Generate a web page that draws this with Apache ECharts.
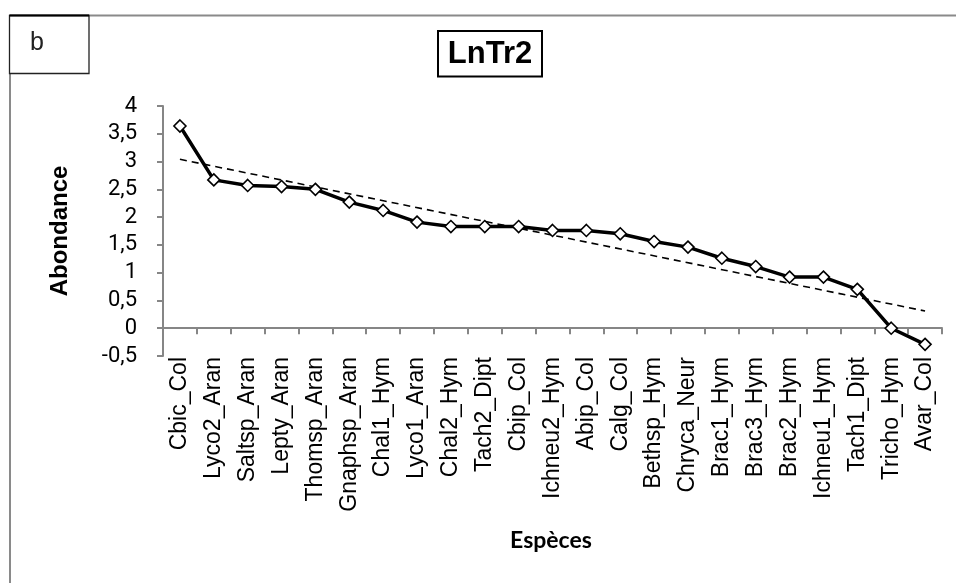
<!DOCTYPE html>
<html>
<head>
<meta charset="utf-8">
<title>LnTr2</title>
<script src="https://cdn.jsdelivr.net/npm/echarts@6/dist/echarts.min.js"></script>
<style>
  html, body { margin: 0; padding: 0; background: #fff; }
  #chart { width: 956px; height: 583px; }
</style>
</head>
<body>
<div id="chart"></div>
<script>
// Species, ranked by abundance (log scale)
const species = [
  'Cbic_Col', 'Lyco2_Aran', 'Saltsp_Aran', 'Lepty_Aran', 'Thomsp_Aran',
  'Gnaphsp_Aran', 'Chal1_Hym', 'Lyco1_Aran', 'Chal2_Hym', 'Tach2_Dipt',
  'Cbip_Col', 'Ichneu2_Hym', 'Abip_Col', 'Calg_Col', 'Bethsp_Hym',
  'Chryca_Neur', 'Brac1_Hym', 'Brac3_Hym', 'Brac2_Hym', 'Ichneu1_Hym',
  'Tach1_Dipt', 'Tricho_Hym', 'Avar_Col'
];

// ln(abundance) per species
const abundance = [
  3.64, 2.67, 2.57, 2.55, 2.50,
  2.27, 2.12, 1.91, 1.83, 1.83,
  1.83, 1.76, 1.76, 1.70, 1.56,
  1.46, 1.26, 1.11, 0.92, 0.92,
  0.70, 0.00, -0.29
];

// Linear trend line: values at first and last species
const trendEnds = [3.04, 0.31];

// Value-axis ticks
const yTicks = [-0.5, 0, 0.5, 1, 1.5, 2, 2.5, 3, 3.5, 4];

const chartTitle = 'LnTr2';
const panelTag = 'b';
const yName = 'Abondance';
const xName = 'Espèces';

const chart = echarts.init(document.getElementById('chart'), null, { renderer: 'canvas' });

const axisGray = '#868686';

const option = {
  backgroundColor: '#ffffff',
  animation: false,
  grid: {
    left: 163, right: 14, top: 106, bottom: 227,
    containLabel: false,
    outerBoundsMode: 'none'
  },
  graphic: [
    // outer frame: top and left edges
    { type: 'line', shape: { x1: 9.5, y1: 15.5, x2: 956, y2: 15.5 },
      style: { stroke: '#8a8a8a', lineWidth: 2 }, silent: true },
    { type: 'line', shape: { x1: 10, y1: 15.5, x2: 10, y2: 583 },
      style: { stroke: '#8a8a8a', lineWidth: 2 }, silent: true },
    // panel tag box
    { type: 'rect', shape: { x: 9.5, y: 15.5, width: 79.5, height: 58 },
      style: { fill: '#fff', stroke: '#222', lineWidth: 1.3 }, silent: true },
    { type: 'line', shape: { x1: 9.5, y1: 15.5, x2: 89, y2: 15.5 },
      style: { stroke: '#000', lineWidth: 2 }, silent: true },
    { type: 'text', x: 37, y: 43,
      style: { text: panelTag, font: '25px "Liberation Sans Narrow", "Liberation Sans", sans-serif',
        fill: '#222', align: 'center', verticalAlign: 'middle' }, silent: true },
    // chart title in a box
    { type: 'rect', shape: { x: 438, y: 31, width: 104, height: 45.5 },
      style: { fill: '#fff', stroke: '#000', lineWidth: 2 }, silent: true },
    { type: 'text', x: 490, y: 54,
      style: { text: chartTitle, font: 'bold 31px "Liberation Sans", Arial, sans-serif',
        fill: '#000', align: 'center', verticalAlign: 'middle' }, silent: true },
    // axis titles
    { type: 'text', x: 60, y: 231, rotation: Math.PI / 2,
      style: { text: yName, font: 'bold 24px "Liberation Sans Narrow", "Liberation Sans", sans-serif',
        fill: '#000', align: 'center', verticalAlign: 'middle' }, silent: true },
    { type: 'text', x: 551, y: 541,
      style: { text: xName, font: 'bold 23px Lato, "Open Sans", sans-serif',
        fill: '#000', align: 'center', verticalAlign: 'middle' }, silent: true }
  ],
  xAxis: {
    type: 'category',
    data: species,
    boundaryGap: true,
    axisLine: { onZero: true, lineStyle: { color: axisGray, width: 2 } },
    axisTick: { show: true, length: 6, inside: false, alignWithLabel: false,
      lineStyle: { color: axisGray, width: 2 } },
    axisLabel: {
      rotate: 90, interval: 0, margin: 1,
      color: '#000', fontSize: 23,
      fontFamily: '"Liberation Sans", Arial, sans-serif'
    },
    splitLine: { show: false }
  },
  yAxis: {
    type: 'value',
    min: yTicks[0],
    max: yTicks[yTicks.length - 1],
    interval: 0.5,
    axisLine: { show: true, lineStyle: { color: axisGray, width: 2 } },
    axisTick: { show: true, length: 6, lineStyle: { color: axisGray, width: 2 } },
    axisLabel: {
      margin: 26, color: '#000', fontSize: 22,
      fontFamily: 'Roboto, "Liberation Sans", sans-serif',
      formatter: v => String(v).replace('.', ',')
    },
    splitLine: { show: false }
  },
  series: [
    {
      name: 'Tendance',
      type: 'line',
      data: [[species[0], trendEnds[0]], [species[species.length - 1], trendEnds[1]]],
      showSymbol: false,
      symbol: 'none',
      lineStyle: { color: '#000', width: 1.6, type: [7, 5] },
      z: 1,
      silent: true
    },
    {
      name: 'Abondance',
      type: 'line',
      data: abundance,
      symbol: 'diamond',
      symbolSize: 12,
      showAllSymbol: true,
      itemStyle: { color: '#fff', borderColor: '#000', borderWidth: 1.6 },
      lineStyle: { color: '#000', width: 3.5 },
      z: 3,
      silent: true
    }
  ]
};

chart.setOption(option);
</script>
</body>
</html>
